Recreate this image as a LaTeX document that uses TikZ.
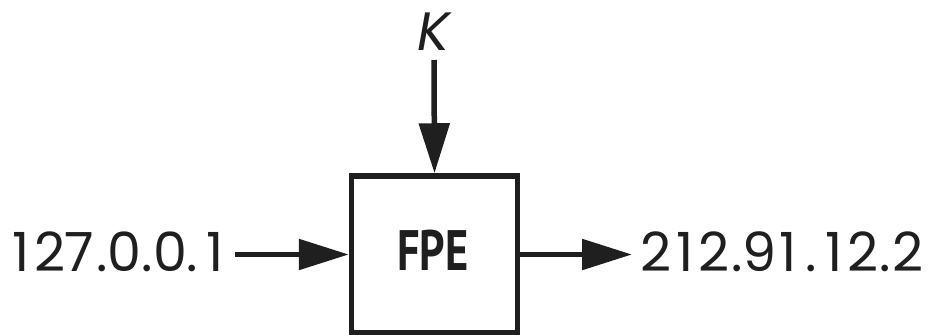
\documentclass[tikz,border=0pt]{standalone}
\usepackage{fontspec}
\setmainfont{Poppins}
\newfontfamily\boxfont{PT Sans}
\usetikzlibrary{arrows.meta}
\newcommand\tdig[1]{\makebox[29.2pt]{#1}}
\newcommand\tdot{\makebox[16pt]{.}}
\tikzset{
  wire/.style={line width=5.5pt, -{Triangle[length=50pt,width=30pt]}},
  label/.style={font=\fontsize{54}{60}\selectfont, text=black!88, inner sep=0pt},
  fpebox/.style={draw=black!88, line width=5.5pt, minimum width=166pt, minimum height=157pt, inner sep=0pt}
}
\begin{document}
\begin{tikzpicture}[x=1pt,y=-1pt]
\useasboundingbox (0,0) rectangle (930,335);
\node[fpebox] (box) at (434.5,254.5) {};
\node[font=\boxfont\bfseries\fontsize{57}{60}\selectfont, text=black!88, xscale=0.78, inner sep=0pt, anchor=base] (fpe) at (433,270) {FPE};
\node[label, anchor=base east] (in) at (230,271) {\tdig{1}\tdig{2}\tdig{7}\tdot\tdig{0}\tdot\tdig{0}\tdot\tdig{1}};
\node[label, anchor=base west] (out) at (641,271) {\tdig{2}\tdig{1}\tdig{2}\tdot\tdig{9}\tdig{1}\tdot\tdig{1}\tdig{2}\tdot\tdig{2}};
\node[label, anchor=base, font=\itshape\fontsize{54}{60}\selectfont] (k) at (434,50) {K};
\coordinate (inA) at (235,254.5);
\coordinate (outB) at (632,254.5);
\coordinate (kA) at (434,60);
\draw[wire, draw=black!88] (inA) -- (box.west);
\draw[wire, draw=black!88] (box.east) -- (outB);
\draw[wire, draw=black!88] (kA) -- (box.north);
\end{tikzpicture}
\end{document}
